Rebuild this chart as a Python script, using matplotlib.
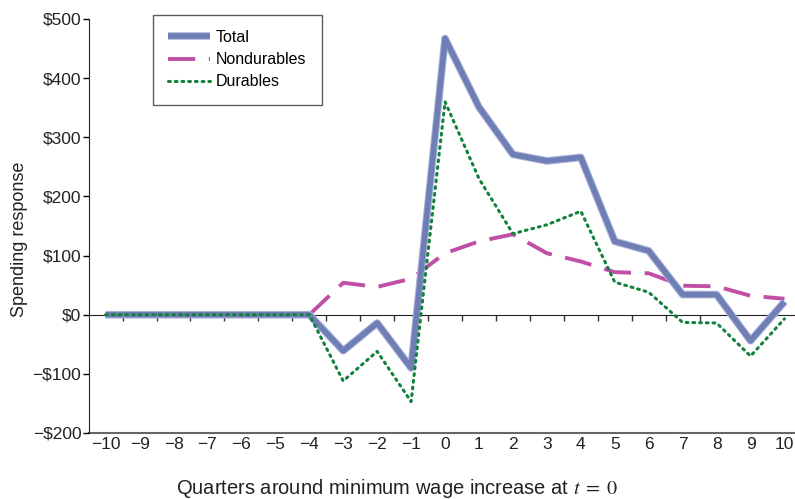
import matplotlib
matplotlib.use("Agg")
import matplotlib.pyplot as plt
import matplotlib.patheffects as pe
import numpy as np

plt.rcParams['font.family'] = ['Liberation Sans', 'DejaVu Sans']
plt.rcParams['mathtext.fontset'] = 'stix'

# quarters around the minimum wage increase
quarters = list(range(-10, 11))
quarter_labels = [str(q).replace('-', '\u2212') for q in quarters]

# spending response series
total = [0, 0, 0, 0, 0, 0, 0, -61, -14, -90, 467, 351, 271, 260, 266,
         124, 108, 34, 34, -44, 22]
nondurables = [0, 0, 0, 0, 0, 0, 0, 54, 47, 61, 104, 124, 136, 104, 90,
               72, 70, 49, 48, 32, 27]
durables = [0, 0, 0, 0, 0, 0, 0, -112, -62, -147, 360, 230, 137, 152, 175,
            55, 38, -13, -14, -70, -7]

y_ticks = [-200, -100, 0, 100, 200, 300, 400, 500]
y_labels = ['\u2212$200', '\u2212$100', '$0', '$100', '$200', '$300', '$400', '$500']

fig = plt.figure(figsize=(7.95, 4.99), dpi=100)
ax = fig.add_axes([89 / 795, 66 / 499, 706 / 795, 414 / 499])

ax.plot(quarters, total, color='#6f7fb6', lw=4, solid_capstyle='butt',
        path_effects=[pe.Stroke(linewidth=5.5, foreground='#aab3d9'), pe.Normal()],
        label='Total', zorder=4)
ax.plot(quarters, nondurables, color='#c050a6', lw=2.8, dashes=(7, 3.5),
        label='Nondurables', zorder=3)
ax.plot(quarters, durables, color='#13813e', lw=2.2, linestyle=(0, (0.6, 1.6)),
        dash_capstyle='round', label='Durables', zorder=5)

ax.set_xlim(-10.49, 10.31)
ax.set_ylim(-200, 500)

# y axis
ax.set_yticks(y_ticks)
ax.set_yticklabels(y_labels, fontsize=12.5, color='#222222')
ax.tick_params(axis='y', direction='out', length=4, width=1, pad=1.5)
ax.set_ylabel('Spending response', fontsize=13, color='#222222', labelpad=3)
ax.yaxis.label.set_y(0.469)

# category axis crossing at zero with ticks between categories
ax.spines['top'].set_visible(False)
ax.spines['right'].set_visible(False)
ax.spines['bottom'].set_position(('data', 0))
ax.spines['bottom'].set_color('#222222')
ax.spines['left'].set_color('#222222')
ax.set_xticks(quarters)
ax.set_xticklabels([])
ax.tick_params(axis='x', which='major', length=0)
ax.set_xticks(np.arange(-9.5, 10.5, 1), minor=True)
ax.tick_params(axis='x', which='minor', direction='out', length=4, width=1, color='#333333')

# bottom label axis
sec = ax.secondary_xaxis(0.0)
sec.set_xticks(quarters)
sec.set_xticklabels(quarter_labels, fontsize=12.5, color='#222222')
sec.tick_params(length=0, pad=3)
sec.spines['bottom'].set_color('#666666')
sec.spines['bottom'].set_linewidth(1.5)
sec.set_xlabel(r'Quarters around minimum wage increase at $t\;=\;0$', fontsize=14.5,
               color='#222222', labelpad=18)
sec.xaxis.label.set_x(0.436)

leg = ax.legend(loc='upper left', bbox_to_anchor=(64 / 706, 1.01), fontsize=11.5,
                frameon=True, fancybox=False, edgecolor='#333333', borderaxespad=0,
                handlelength=2.6, borderpad=0.95, labelspacing=0.45, handletextpad=0.4)
leg.get_frame().set_linewidth(1.0)

fig.savefig('out.png', dpi=100)
